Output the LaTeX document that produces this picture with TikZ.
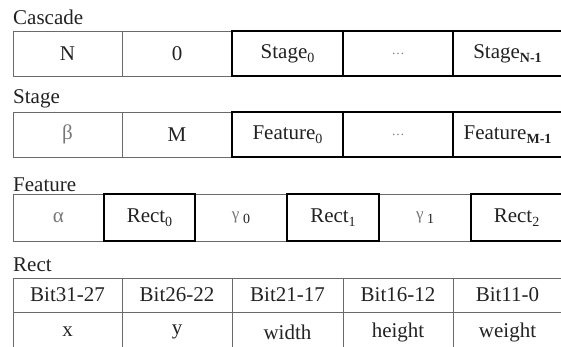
\documentclass[tikz,border=0pt]{standalone}
\usepackage{fontspec}
\setmainfont{Liberation Serif}
\definecolor{txt}{HTML}{222222}
\definecolor{thin}{HTML}{6A6A6A}
\definecolor{grk}{HTML}{777777}
\newcommand{\sbs}[1]{\raisebox{-0.45ex}{\fontsize{14}{14}\selectfont #1}}
\begin{document}
\begin{tikzpicture}[x=1pt,y=-1pt,
  every node/.style={font=\fontsize{21}{25}\selectfont, text=txt},
  cell/.style={draw=thin, line width=0.9pt, inner sep=0pt, anchor=center},
  bold/.style={draw=black, line width=2.4pt, inner sep=0pt, anchor=center},
  lbl/.style={anchor=base west, inner sep=0pt}]
\useasboundingbox (0,0) rectangle (561,346);
\clip (0,0) rectangle (561,346);
% Cascade
\node[lbl] (lc) at (13,24) {Cascade};
\begin{scope}[every node/.append style={minimum height=45pt, minimum width=110pt}]
\node[cell,minimum width=109pt] (c1) at (67.5,53.5) {N};
\node[cell] (c2) at (177,53.5) {0};
\node[bold,minimum width=111pt] (c3) at (287.5,53.5) {Stage\sbs{0}};
\node[bold] (c4) at (398,53.5) {\textcolor{grk}{\fontsize{13}{13}\selectfont\dots}};
\node[bold,minimum width=109pt] (c5) at (507.5,53.5) {Stage\sbs{\textbf{N-1}}};
\end{scope}
% Stage
\node[lbl] (ls) at (13,103) {Stage};
\begin{scope}[every node/.append style={minimum height=45pt, minimum width=110pt}]
\node[cell,minimum width=109pt] (s1) at (67.5,134.5) {\textcolor{grk}{β}};
\node[cell] (s2) at (177,134.5) {M};
\node[bold,minimum width=111pt] (s3) at (287.5,134.5) {Feature\sbs{0}};
\node[bold] (s4) at (398,134.5) {\textcolor{grk}{\fontsize{13}{13}\selectfont\dots}};
\node[bold,minimum width=109pt] (s5) at (507.5,134.5) {Feature\sbs{\textbf{M-1}}};
\end{scope}
% Feature
\node[lbl] (lf) at (13,191) {Feature};
\begin{scope}[every node/.append style={minimum height=47pt}]
\node[cell,minimum width=91pt] (f1) at (58.5,217.5) {\textcolor{grk}{α}};
\node[cell,minimum width=92pt] (f3) at (241,217.5) {\textcolor{grk}{\fontsize{17}{17}\selectfont γ}\,\sbs{0}};
\node[cell,minimum width=92pt] (f5) at (425,217.5) {\textcolor{grk}{\fontsize{17}{17}\selectfont γ}\,\sbs{1}};
\node[bold,minimum width=91pt] (f2) at (149.5,217.5) {Rect\sbs{0}};
\node[bold,minimum width=92pt] (f4) at (333,217.5) {Rect\sbs{1}};
\node[bold,minimum width=91pt] (f6) at (516.5,217.5) {Rect\sbs{2}};
\end{scope}
% Rect
\node[lbl] (lr) at (13,271) {Rect};
\begin{scope}[every node/.append style={minimum height=34pt}]
\node[cell,minimum width=109pt] (r1) at (67.5,295) {Bit31-27};
\node[cell,minimum width=110pt] (r2) at (177,295) {Bit26-22};
\node[cell,minimum width=111pt] (r3) at (287.5,295) {Bit21-17};
\node[cell,minimum width=110pt] (r4) at (398,295) {Bit16-12};
\node[cell,minimum width=109pt] (r5) at (507.5,295) {Bit11-0};
\end{scope}
\begin{scope}[every node/.append style={minimum height=40pt}]
\node[cell,minimum width=109pt] (v1) at (67.5,332) {x};
\node[cell,minimum width=110pt] (v2) at (177,332) {y};
\node[cell,minimum width=111pt] (v3) at (287.5,332) {width};
\node[cell,minimum width=110pt] (v4) at (398,332) {height};
\node[cell,minimum width=109pt] (v5) at (507.5,332) {weight};
\end{scope}
\end{tikzpicture}
\end{document}
